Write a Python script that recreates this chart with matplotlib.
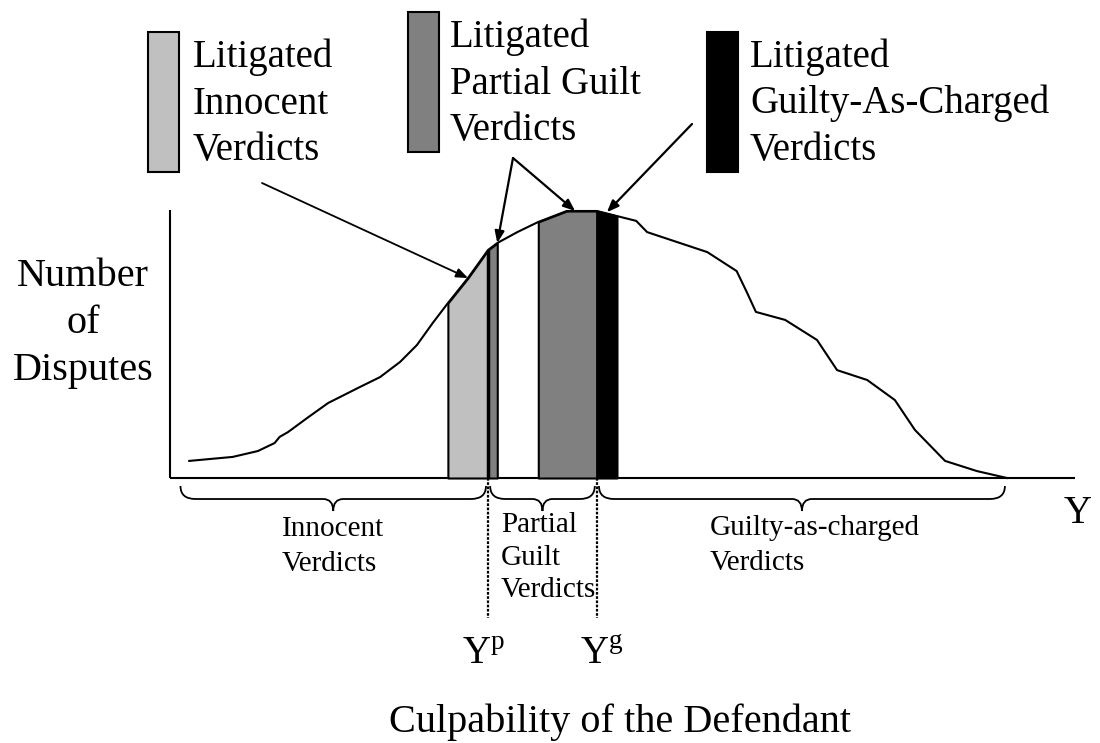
import numpy as np
import matplotlib
matplotlib.use("Agg")
import matplotlib.pyplot as plt
from matplotlib.patches import Rectangle, PathPatch
from matplotlib.path import Path

plt.rcParams["font.family"] = "Liberation Serif"
plt.rcParams["mathtext.fontset"] = "custom"
plt.rcParams["mathtext.rm"] = "Liberation Serif"

# distribution of disputes over culpability
culpability = [2.3, 7.5, 10.5, 12.5, 13.1, 14.1, 16.4, 18.9, 22.7, 25.1,
               27.5, 29.5, 31.4, 33.2, 35.6, 38.0, 39.1, 41.5, 44.0, 47.4,
               51.0, 53.4, 55.7, 57.0, 64.2, 67.7, 68.9, 70.0, 73.5, 77.3,
               79.7, 83.3, 86.6, 89.0, 92.6, 96.4, 100.0]
disputes = [6.4, 7.9, 10.1, 13.1, 15.4, 17.2, 22.5, 28.1, 34.1, 37.8,
            43.5, 49.8, 58.1, 65.5, 74.9, 85.4, 88.0, 92.1, 95.9, 100.0,
            100.0, 98.1, 96.3, 92.1, 84.6, 77.5, 69.7, 62.2, 59.2, 51.7,
            40.4, 36.7, 29.2, 18.0, 6.4, 2.6, 0.0]

# thresholds
y_p = 38.0
y_g = 51.0

# litigated bands
region_start = [33.2, 38.0, 44.0, 51.0]
region_end = [38.0, 39.1, 51.0, 53.4]
region_color = ["#c0c0c0", "#808080", "#808080", "black"]

verdict_start = [1.0, y_p, y_g]
verdict_end = [y_p, y_g, 100.0]
verdict_labels = [["Innocent", "Verdicts"],
                  ["Partial", "Guilt", "Verdicts"],
                  ["Guilty-as-charged", "Verdicts"]]

legend_colors = ["#c0c0c0", "#808080", "black"]
legend_labels = [["Litigated", "Innocent", "Verdicts"],
                 ["Litigated", "Partial Guilt", "Verdicts"],
                 ["Litigated", "Guilty-As-Charged", "Verdicts"]]

# page layout (pixels): origin of the plot and scale of the units
X0, Y0, SX, SY = 170, 478, 8.37, 2.67


def px_x(p):
    return (p - X0) / SX


def px_y(p):
    return (Y0 - p) / SY


def curve_at(x):
    return np.interp(x, culpability, disputes)


fig = plt.figure(figsize=(11, 7.43), dpi=100)
ax = fig.add_axes([0, 0, 1, 1])
ax.set_xlim(px_x(0), px_x(1100))
ax.set_ylim(px_y(743), px_y(0))
ax.axis("off")

# axes
ax.plot([0, 0], [0, px_y(210)], color="black", lw=1.5, solid_capstyle="butt")
ax.plot([0, px_x(1075)], [0, 0], color="black", lw=1.5, solid_capstyle="butt")

# shaded litigated bands
cx = np.array(culpability)
for a, b, c in zip(region_start, region_end, region_color):
    inner = cx[(cx > a) & (cx < b)]
    xs = np.concatenate([[a], inner, [b]])
    ax.fill_between(xs, 0, curve_at(xs), facecolor=c, edgecolor="black",
                    lw=1.5, zorder=2)
ax.vlines(y_p, 0, curve_at(y_p), color="black", lw=2.5, zorder=3)

ax.plot(culpability, disputes, color="black", lw=1.5, zorder=4)

# dotted threshold lines
for t in (y_p, y_g):
    ax.plot([t, t], [0, px_y(618)], color="black", lw=1.6,
            linestyle=(0, (1.2, 0.7)), zorder=3)


def brace(x0, x1, y_end, y_mid, y_tip, r_end, r_tip):
    xm = (x0 + x1) / 2
    verts = [(x0, y_end), (x0, y_mid), (x0 + r_end, y_mid),
             (xm - r_tip, y_mid), (xm, y_mid), (xm, y_tip),
             (xm, y_mid), (xm + r_tip, y_mid),
             (x1 - r_end, y_mid), (x1, y_mid), (x1, y_end)]
    codes = [Path.MOVETO, Path.CURVE3, Path.CURVE3,
             Path.LINETO, Path.CURVE3, Path.CURVE3,
             Path.CURVE3, Path.CURVE3,
             Path.LINETO, Path.CURVE3, Path.CURVE3]
    ax.add_patch(PathPatch(Path(verts, codes), facecolor="none",
                           edgecolor="black", lw=1.3))


for a, b in zip(verdict_start, verdict_end):
    brace(a + 0.25, b - 0.25, px_y(486), px_y(499), px_y(511), 1.8, 1.2)


def label(xp, yp, s, size, ha="left"):
    ax.text(px_x(xp), px_y(yp), s, fontsize=size, ha=ha, va="baseline")


# verdict labels under the braces
label_x = [282, 501, 710]
label_base = [[536, 571], [532, 565, 597], [535, 570]]
for lines, x, bases in zip(verdict_labels, label_x, label_base):
    for s, b in zip(lines, bases):
        label(x, b, s, 21)

# legend boxes and text
box_x = [148, 408, 707]
box_top = [32, 12, 32]
text_x = [193, 450, 750]
for c, lines, bx, bt, tx in zip(legend_colors, legend_labels, box_x, box_top,
                                 text_x):
    ax.add_patch(Rectangle((px_x(bx), px_y(bt + 140)), 31 / SX, 140 / SY,
                           facecolor=c, edgecolor="black", lw=1.5))
    for i, s in enumerate(lines):
        label(tx, bt + 35 + 46.5 * i, s, 28)

# arrows
arrow = dict(arrowstyle="-|>,head_length=0.7,head_width=0.28", color="black",
             lw=1.6, shrinkA=0, shrinkB=0)
ax.annotate("", xy=(35.6, curve_at(35.6)), xytext=(px_x(262), px_y(183)),
            arrowprops=dict(arrow, lw=1.3), zorder=5)
for tx in (39.1, 48.4):
    ax.annotate("", xy=(tx, curve_at(tx)), xytext=(px_x(513), px_y(158)),
                arrowprops=arrow, zorder=5)
ax.annotate("", xy=(52.2, curve_at(52.2) + 0.5), xytext=(px_x(692), px_y(124)),
            arrowprops=arrow, zorder=5)

# axis labels
for s, b in zip(["Number", "of", "Disputes"], [286, 333, 380]):
    label(83, b, s, 29, ha="center")
label(1078, 523, "Y", 28, ha="center")
label(462, 664, r"$\mathrm{Y}^{\mathrm{p}}$", 28)
label(580, 664, r"$\mathrm{Y}^{\mathrm{g}}$", 28)
label(620, 732, "Culpability of the Defendant", 29, ha="center")

fig.savefig("out.png", dpi=100)
